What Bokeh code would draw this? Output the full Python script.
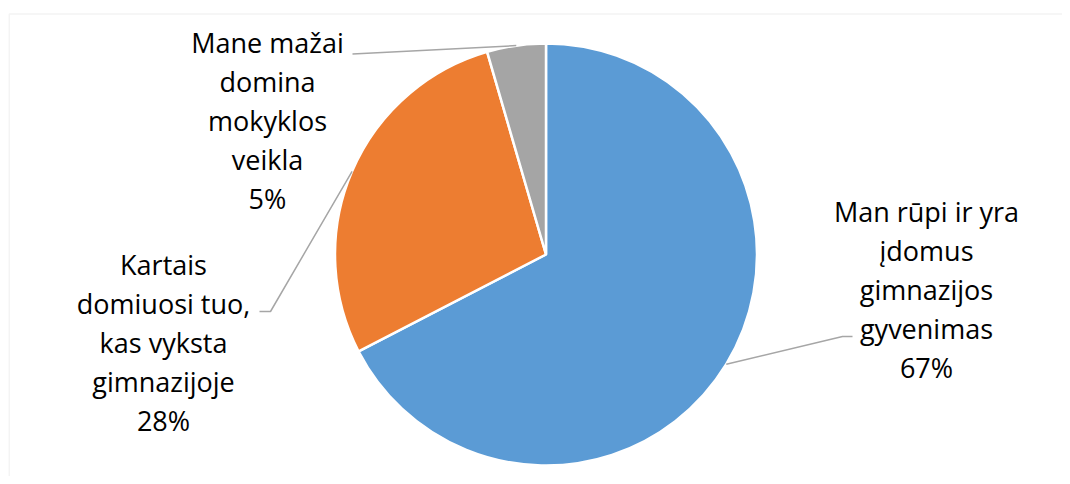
import math
from bokeh.plotting import figure
from bokeh.models import Range1d, BoxAnnotation, ColumnDataSource
from bokeh.core.properties import value
from bokeh.embed import file_html
from bokeh.resources import INLINE

# ---- data ----
categories = [
    "Man rūpi ir yra\nįdomus\ngimnazijos\ngyvenimas",
    "Kartais\ndomiuosi tuo,\nkas vyksta\ngimnazijoje",
    "Mane mažai\ndomina\nmokyklos\nveikla",
]
shares = [67.4, 28.1, 4.5]
pct_labels = ["67%", "28%", "5%"]
colors = ["#5B9BD5", "#ED7D31", "#A5A5A5"]

# ---- layout (image pixel coords; y data = 484 - y_img) ----
W, H = 1062, 476
def Y(y_img):
    return 484 - y_img

cx, cy, r = 545.5, Y(254), 211
label_pos = [(926, Y(289)), (163, Y(342)), (267, Y(120))]
elbows = [[(842, Y(336)), (852, Y(336))],
          [(270, Y(311)), (259, Y(311))],
          [(352, Y(53.5))]]

p = figure(width=W, height=H, output_backend="svg", toolbar_location=None,
           x_range=Range1d(0, W), y_range=Range1d(484 - H, 484),
           min_border=0, outline_line_color=None)
p.axis.visible = False
p.grid.visible = False
p.background_fill_color = "white"
p.border_fill_color = "white"

# chart border (light gray)
p.add_layout(BoxAnnotation(left=8.75, right=2000, top=Y(13.5), bottom=-500,
                           fill_alpha=0, line_color="#D9D9D9", line_width=1.5))

# wedges, clockwise from 12 o'clock
total = sum(shares)
starts, ends, mids = [], [], []
a = math.pi / 2
for v in shares:
    sweep = 2 * math.pi * v / total
    starts.append(a)
    ends.append(a - sweep)
    mids.append(a - sweep / 2)
    a -= sweep

src = ColumnDataSource(dict(start=starts, end=ends, color=colors))
p.wedge(x=cx, y=cy, radius=r, start_angle="start", end_angle="end",
        direction="clock", fill_color="color", line_color="white",
        line_width=2.5, source=src)

# leader lines
for m, el in zip(mids, elbows):
    xs = [cx + r * math.cos(m)] + [e[0] for e in el]
    ys = [cy + r * math.sin(m)] + [e[1] for e in el]
    p.line(xs, ys, line_color="#A6A6A6", line_width=1.5)

# labels
texts = [c + "\n" + pl for c, pl in zip(categories, pct_labels)]
p.text(x=[lp[0] for lp in label_pos], y=[lp[1] for lp in label_pos], text=texts,
       text_align="center", text_baseline="middle",
       text_font=value("Open Sans"), text_font_size="27px",
       text_line_height=1.05, text_color="#000000")

open("out.html", "w").write(file_html(p, INLINE))
